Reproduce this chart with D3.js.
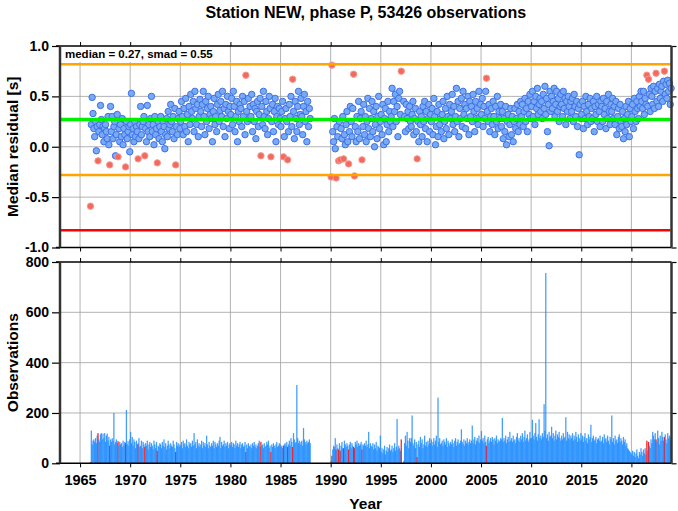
<!DOCTYPE html>
<html>
<head>
<meta charset="utf-8">
<script src="https://cdn.jsdelivr.net/npm/d3@7"></script>
<style>
  html, body { margin: 0; padding: 0; background: #fff; }
  svg { display: block; font-family: "Liberation Sans", Arial, Helvetica, sans-serif; }
</style>
</head>
<body>
<svg id="chart" width="678" height="511"></svg>
<script>
// ---------------- DATA ----------------
const title = "Station NEW, phase P, 53426 observations";
const statsLabel = "median = 0.27, smad = 0.55";
const medianValue = 0.27;
const smadValue = 0.55;
const firstYear = 1966;
const yearTicks = [1965, 1970, 1975, 1980, 1985, 1990, 1995, 2000, 2005, 2010, 2015, 2020];
const residualTicks = [-1.0, -0.5, 0.0, 0.5, 1.0];
const countTicks = [0, 200, 400, 600, 800];

// monthly median residual [s], one row per year (Jan..Dec), null = no data
const residual = [
  [-0.59,0.22,0.49,0.33,0.18,0.10,0.25,-0.04,0.20,-0.14,0.15,0.22], // 1966
  [0.41,0.27,0.12,0.20,0.05,0.18,0.22,0.15,0.08,0.30,0.02,-0.18],   // 1967
  [0.40,0.15,0.30,0.08,0.20,0.25,-0.09,0.12,0.32,-0.10,0.18,0.05],  // 1968
  [0.22,0.10,0.28,0.02,0.18,0.12,-0.20,0.25,0.08,0.15,0.20,-0.05],  // 1969
  [0.22,0.53,0.12,0.18,0.05,0.25,0.10,0.20,0.15,-0.12,0.08,0.22],   // 1970
  [0.40,0.12,0.20,0.25,0.30,-0.09,0.18,0.05,0.41,0.15,0.22,0.10],   // 1971
  [0.28,0.50,0.15,0.22,0.02,0.30,0.12,0.18,-0.16,0.25,0.08,0.20],   // 1972
  [0.30,0.15,0.05,0.25,0.20,-0.02,0.12,0.28,0.10,0.35,0.18,0.22],   // 1973
  [0.42,0.25,0.15,0.30,0.08,0.38,-0.18,0.20,0.12,0.28,0.35,0.18],   // 1974
  [0.25,0.45,0.30,0.12,0.38,0.20,0.48,0.15,0.32,0.05,0.40,0.22],    // 1975
  [0.52,0.35,0.28,0.45,0.15,0.55,0.38,0.22,0.42,0.10,0.30,0.47],    // 1976
  [0.35,0.20,0.42,0.55,0.30,0.12,0.45,0.25,0.38,0.50,0.18,0.32],    // 1977
  [0.40,0.28,0.05,0.35,0.48,0.22,0.30,0.15,0.42,0.52,0.25,0.36],    // 1978
  [0.45,0.30,0.55,0.20,0.38,0.10,0.42,0.28,0.50,0.35,0.18,0.40],    // 1979
  [0.32,0.48,0.22,0.55,0.40,0.15,0.30,0.45,0.05,0.35,0.25,0.42],    // 1980
  [0.38,0.20,0.50,0.30,0.45,0.12,0.71,0.35,0.25,0.48,0.28,0.40],    // 1981
  [0.30,0.52,0.15,0.42,0.25,0.38,0.08,0.35,0.45,0.20,0.32,0.48],    // 1982
  [-0.09,0.40,0.22,0.55,0.30,0.18,0.45,0.35,0.12,0.28,0.50,0.38],   // 1983
  [-0.10,0.25,0.42,0.15,0.35,0.48,0.05,0.30,0.40,0.22,0.38,0.28],   // 1984
  [0.20,0.35,0.45,-0.10,0.10,0.28,0.38,0.25,-0.13,0.15,0.42,0.30],  // 1985
  [0.50,0.20,0.67,0.35,0.08,0.45,0.28,0.15,0.40,0.55,0.22,0.32],    // 1986
  [0.48,0.30,0.12,0.40,0.52,0.25,0.35,0.05,0.45,0.20,0.38,0.28],    // 1987
  [null,null,null,null,null,null,null,null,null,null,null,null],    // 1988
  [null,null,null,null,null,null,null,null,null,null,null,null],    // 1989
  [-0.30,0.81,0.15,0.05,0.28,-0.02,-0.31,0.20,0.10,-0.14,0.25,-0.13], // 1990
  [0.18,0.08,0.30,-0.12,0.12,0.02,0.22,0.35,0.05,-0.17,0.15,0.40],  // 1991
  [0.25,0.10,0.38,0.72,-0.29,0.20,0.05,0.30,0.15,0.45,0.08,0.28],   // 1992
  [0.35,-0.13,0.20,0.42,0.12,0.30,0.05,0.25,0.48,0.18,0.38,0.10],   // 1993
  [0.28,0.45,0.15,0.35,0.00,0.22,0.40,0.08,0.30,0.50,0.18,0.25],    // 1994
  [0.32,0.12,0.42,0.02,0.28,0.38,0.05,0.22,0.45,0.15,0.35,0.25],    // 1995
  [0.30,0.58,0.20,0.45,0.35,0.52,0.25,0.40,0.10,0.48,0.55,0.32],    // 1996
  [0.75,null,null,0.45,0.30,0.15,0.42,0.28,0.35,0.18,0.40,0.25],    // 1997
  [0.20,0.32,0.45,0.12,0.28,0.38,0.15,-0.12,0.25,0.05,0.35,0.22],   // 1998
  [0.30,0.10,0.40,0.25,0.45,0.18,0.35,0.05,0.28,0.42,0.15,0.32],    // 1999
  [0.25,0.38,0.12,0.48,0.30,0.02,0.20,0.35,0.10,0.42,0.22,0.28],    // 2000
  [0.15,0.32,0.45,0.08,0.25,0.38,0.18,0.50,0.30,0.12,0.42,0.28],    // 2001
  [0.35,0.52,0.22,0.40,0.15,0.30,0.58,0.25,0.45,0.10,0.38,0.28],    // 2002
  [0.48,0.20,0.55,0.32,0.42,0.18,0.38,0.28,0.50,0.12,0.45,0.30],    // 2003
  [0.40,0.25,0.52,0.35,0.15,0.45,0.28,0.38,0.22,0.55,0.30,0.42],    // 2004
  [0.32,0.48,0.20,0.40,0.28,0.55,0.68,0.35,0.25,0.42,0.15,0.30],    // 2005
  [0.38,0.22,0.45,0.30,0.12,0.40,0.25,0.50,0.18,0.35,0.28,0.42],    // 2006
  [0.20,0.35,0.08,0.28,0.15,0.40,0.02,0.25,0.32,0.10,0.22,0.38],    // 2007
  [0.12,0.30,0.05,0.25,0.38,0.18,0.28,0.42,0.15,0.35,0.22,0.45],    // 2008
  [0.30,0.42,0.20,0.35,0.48,0.25,0.38,0.15,0.45,0.32,0.52,0.28],    // 2009
  [0.40,0.55,0.30,0.45,0.22,0.50,0.38,0.58,0.32,0.42,0.48,0.35],    // 2010
  [0.45,0.28,0.52,0.38,0.60,0.32,0.48,0.15,0.42,0.01,0.55,0.35],    // 2011
  [0.50,0.38,0.45,0.58,0.30,0.42,0.55,0.35,0.48,0.25,0.40,0.52],    // 2012
  [0.42,0.30,0.55,0.38,0.48,0.22,0.45,0.35,0.50,0.40,0.28,0.45],    // 2013
  [0.35,0.48,0.25,0.52,0.40,0.30,0.45,0.20,0.38,-0.08,0.42,0.28],   // 2014
  [0.32,0.45,0.18,0.40,0.28,0.50,0.35,0.22,0.42,0.30,0.48,0.25],    // 2015
  [0.38,0.28,0.45,0.15,0.40,0.32,0.50,0.25,0.42,0.35,0.20,0.45],    // 2016
  [0.40,0.25,0.48,0.32,0.38,0.18,0.45,0.28,0.52,0.35,0.22,0.42],    // 2017
  [0.35,0.48,0.28,0.40,0.22,0.45,0.12,0.30,0.38,0.18,0.42,0.25],    // 2018
  [0.20,0.35,0.08,0.28,0.15,0.40,0.22,0.32,0.45,0.10,0.38,0.25],    // 2019
  [0.30,0.42,0.18,0.48,0.35,0.25,0.45,0.38,0.28,0.50,0.40,0.55],    // 2020
  [0.45,0.38,0.55,0.32,0.48,0.42,0.71,0.40,0.67,0.52,0.35,0.58],    // 2021
  [0.50,0.42,0.60,0.38,0.55,0.73,0.45,0.58,0.40,0.62,0.48,0.55],    // 2022
  [0.60,0.45,0.65,0.75,0.52,0.62,0.48,0.66,0.55,0.63,0.42,0.58]     // 2023
];

// monthly number of observations, one row per year (Jan..Dec)
const counts = [
  [5,130,75,90,95,85,100,80,110,120,95,85],        // 1966
  [115,120,95,118,100,120,85,110,118,90,105,70],   // 1967
  [95,85,100,90,200,75,85,95,80,88,70,85],         // 1968
  [75,80,65,90,70,85,80,212,75,88,70,95],          // 1969
  [125,80,105,70,95,85,60,90,75,78,100,65],        // 1970
  [70,90,60,85,75,65,80,70,90,55,75,85],           // 1971
  [65,80,70,55,90,75,60,85,50,70,65,80],           // 1972
  [75,60,85,70,95,65,80,55,70,90,75,60],           // 1973
  [80,70,65,90,75,60,45,85,70,80,65,75],           // 1974
  [70,85,60,90,75,80,65,95,70,60,85,75],           // 1975
  [80,65,90,70,120,75,85,60,95,70,80,65],          // 1976
  [75,90,60,85,70,80,65,110,75,60,85,70],          // 1977
  [65,80,70,90,60,85,75,65,80,70,90,105],          // 1978
  [60,85,70,75,90,65,80,70,85,60,75,80],           // 1979
  [70,85,65,80,75,60,90,70,80,65,75,85],           // 1980
  [60,75,80,65,70,85,45,75,60,80,70,65],           // 1981
  [75,60,80,70,85,65,75,60,70,80,90,65],           // 1982
  [85,70,75,60,80,65,70,85,75,90,60,70],           // 1983
  [45,75,65,80,70,60,75,85,65,70,80,75],           // 1984
  [65,70,60,70,75,80,70,85,65,75,90,70],           // 1985
  [100,85,65,120,95,80,85,311,100,80,90,75],       // 1986
  [85,90,70,140,95,85,75,90,80,85,95,80],          // 1987
  [0,0,0,0,0,0,0,0,0,0,0,0],                       // 1988
  [0,0,0,0,0,0,0,0,0,0,0,0],                       // 1989
  [8,30,55,70,65,100,55,75,60,55,80,50],           // 1990
  [70,85,60,60,90,75,65,80,70,55,75,85],           // 1991
  [60,80,70,65,60,85,75,90,65,80,70,75],           // 1992
  [85,55,75,70,80,70,90,65,75,125,60,80],          // 1993
  [70,65,80,55,75,60,85,50,70,65,60,110],          // 1994
  [45,60,40,55,70,35,50,65,45,60,75,50],           // 1995
  [55,70,45,60,80,50,65,176,55,70,60,50],          // 1996
  [95,0,0,10,80,110,70,125,90,60,100,85],          // 1997
  [100,190,80,70,95,60,85,25,75,90,65,105],        // 1998
  [80,95,60,75,110,70,85,65,90,75,100,80],         // 1999
  [95,70,85,100,75,90,110,65,261,85,100,75],       // 2000
  [80,90,70,95,85,75,100,65,90,80,70,85],          // 2001
  [75,95,80,65,90,100,70,85,95,75,80,90],          // 2002
  [135,85,75,95,70,90,80,100,75,85,95,80],         // 2003
  [90,150,80,95,105,75,90,100,85,110,80,95],       // 2004
  [128,90,100,80,110,85,70,95,105,80,90,100],      // 2005
  [85,105,95,75,100,90,110,80,95,85,90,100],       // 2006
  [95,180,85,100,90,110,80,95,105,85,125,90],      // 2007
  [100,85,110,90,95,80,105,120,90,100,85,110],     // 2008
  [95,120,85,105,130,90,100,115,85,95,125,100],    // 2009
  [100,173,110,95,120,160,105,90,115,175,100,110], // 2010
  [95,120,105,235,130,756,100,115,90,125,105,110], // 2011
  [145,100,120,90,110,130,95,115,105,125,100,90],  // 2012
  [110,95,120,100,105,183,90,125,100,115,95,110],  // 2013
  [100,120,90,110,95,125,105,85,115,100,90,120],   // 2014
  [95,110,85,105,120,90,100,80,115,95,105,153],    // 2015
  [85,100,110,90,95,105,80,95,100,90,110,85],      // 2016
  [90,105,80,115,95,100,85,110,90,75,105,95],      // 2017
  [190,85,100,75,110,90,95,80,105,115,85,100],     // 2018
  [90,75,105,85,95,70,80,60,55,50,45,40],          // 2019
  [35,50,30,45,25,40,55,30,20,45,35,60],           // 2020
  [45,30,55,40,60,35,90,50,85,70,60,95],           // 2021
  [80,125,110,95,120,95,85,130,100,75,110,90],     // 2022
  [125,105,90,105,115,95,80,120,100,110,90,105]    // 2023
];

// months flagged (drawn in red)
const flagged = [
  "1966-01","1966-10","1967-12","1968-10","1969-07","1970-10","1971-06","1972-09","1974-07",
  "1981-07","1983-01","1984-01","1985-04","1985-09","1986-03",
  "1990-01","1990-02","1990-07","1990-10","1990-12","1991-04","1991-10","1992-04","1992-05","1993-02",
  "1997-01","1998-08","2005-07","2021-07","2021-09","2022-06","2023-04"
];

// ---------------- BUILD RECORDS ----------------
const flagSet = new Set(flagged);
const months = [];
residual.forEach((row, yi) => {
  row.forEach((v, m) => {
    const yr = firstYear + yi;
    const key = yr + "-" + String(m + 1).padStart(2, "0");
    months.push({ t: yr + (m + 0.5) / 12, res: v, n: counts[yi][m], flag: flagSet.has(key) });
  });
});

// ---------------- LAYOUT ----------------
const svg = d3.select("#chart");
const L = 60, R = 671.5;
const top1 = 46, bot1 = 247.5, top2 = 262, bot2 = 463.3;
const x = d3.scaleLinear().domain([1963, 2024]).range([L, R]);
const yRes = d3.scaleLinear().domain([-1, 1]).range([bot1, top1]);
const yCnt = d3.scaleLinear().domain([0, 800]).range([bot2, top2]);
const font = "bold";

// title
svg.append("text").attr("x", (L + R) / 2).attr("y", 18).attr("text-anchor", "middle")
  .attr("font-size", 16).attr("font-weight", font).text(title);

function gridAndFrame(y, yt, top, bot) {
  const g = svg.append("g");
  g.selectAll("line.vg").data(yearTicks).join("line")
    .attr("x1", d => x(d)).attr("x2", d => x(d)).attr("y1", top).attr("y2", bot)
    .attr("stroke", "#a0a0a0").attr("stroke-width", 0.8);
  g.selectAll("line.hg").data(yt.slice(1, -1)).join("line")
    .attr("x1", L).attr("x2", R).attr("y1", d => y(d)).attr("y2", d => y(d))
    .attr("stroke", "#a0a0a0").attr("stroke-width", 0.8);
  return g;
}

function axes(y, yt, top, bot, fmt, withXLabels) {
  const left = svg.append("g").attr("transform", `translate(${L},0)`)
    .call(d3.axisLeft(y).tickValues(yt).tickFormat(fmt).tickSize(8).tickPadding(3));
  left.select(".domain").remove();
  left.selectAll("line").attr("stroke", "#000").attr("stroke-width", 1.2);
  left.selectAll("text").attr("font-size", 14).attr("font-weight", font).attr("fill", "#000")
    .attr("font-family", "Liberation Sans, Arial, sans-serif");

  const right = svg.append("g").attr("transform", `translate(${R},0)`)
    .call(d3.axisRight(y).tickValues(yt).tickFormat("").tickSize(5));
  right.select(".domain").remove();
  right.selectAll("line").attr("stroke", "#000").attr("stroke-width", 1.2);

  const tp = svg.append("g").attr("transform", `translate(0,${top})`)
    .call(d3.axisTop(x).tickValues(yearTicks).tickFormat("").tickSize(4));
  tp.select(".domain").remove();
  tp.selectAll("line").attr("stroke", "#000");

  const bt = svg.append("g").attr("transform", `translate(0,${bot})`)
    .call(d3.axisBottom(x).tickValues(yearTicks).tickFormat(withXLabels ? d3.format("d") : "")
      .tickSize(4).tickPadding(7));
  bt.select(".domain").remove();
  bt.selectAll("line").attr("stroke", "#000");
  bt.selectAll("text").attr("font-size", 14.5).attr("font-weight", font).attr("fill", "#000")
    .attr("font-family", "Liberation Sans, Arial, sans-serif");

  // frame
  svg.append("line").attr("x1", L - 4).attr("x2", R).attr("y1", top).attr("y2", top)
    .attr("stroke", "#000").attr("stroke-width", 1.5);
  svg.append("line").attr("x1", L - 4).attr("x2", R).attr("y1", bot).attr("y2", bot)
    .attr("stroke", "#000").attr("stroke-width", 1.5);
  svg.append("line").attr("x1", L).attr("x2", L).attr("y1", top).attr("y2", bot)
    .attr("stroke", "#333").attr("stroke-width", 2.5);
  svg.append("line").attr("x1", R).attr("x2", R).attr("y1", top).attr("y2", bot)
    .attr("stroke", "#333").attr("stroke-width", 2.5);
}

// ---------- top panel ----------
gridAndFrame(yRes, residualTicks, top1, bot1);

// points
const pts = months.filter(d => d.res !== null);
svg.append("g").selectAll("circle").data(pts.filter(d => !d.flag)).join("circle")
  .attr("cx", d => x(d.t)).attr("cy", d => yRes(d.res)).attr("r", 3.2)
  .attr("fill", "#76aaf4").attr("stroke", "#3f6fe6").attr("stroke-width", 1);
svg.append("g").selectAll("circle").data(pts.filter(d => d.flag)).join("circle")
  .attr("cx", d => x(d.t)).attr("cy", d => yRes(d.res)).attr("r", 3.2)
  .attr("fill", "#f26a5e").attr("stroke", "#f59a90").attr("stroke-width", 1);

// reference lines (drawn over the points)
const refLines = [
  { v: medianValue + smadValue, c: "#ffa500", w: 2.5 },
  { v: medianValue - smadValue, c: "#ffa500", w: 2.5 },
  { v: medianValue - 2 * smadValue, c: "#ff0000", w: 2.5 },
  { v: medianValue, c: "#00ee00", w: 3.5 }
];
svg.append("g").selectAll("line").data(refLines).join("line")
  .attr("x1", L + 1).attr("x2", R - 1).attr("y1", d => yRes(d.v)).attr("y2", d => yRes(d.v))
  .attr("stroke", d => d.c).attr("stroke-width", d => d.w);

// stats label box
svg.append("rect").attr("x", L + 1).attr("y", top1 + 1).attr("width", 160).attr("height", 15).attr("fill", "#fff");
svg.append("text").attr("x", L + 5).attr("y", top1 + 12).attr("font-size", 11.5).attr("font-weight", font)
  .text(statsLabel);

axes(yRes, residualTicks, top1, bot1, d => d.toFixed(1), false);

// ---------- bottom panel ----------
gridAndFrame(yCnt, countTicks, top2, bot2);
const bw = (x(1) - x(0)) / 12;
svg.append("g").selectAll("rect").data(months.filter(d => d.n > 0)).join("rect")
  .attr("x", d => x(d.t) - bw * 0.75).attr("width", bw * 1.5)
  .attr("y", d => yCnt(d.n)).attr("height", d => yCnt(0) - yCnt(d.n))
  .attr("fill", d => d.flag ? "#ff1a1a" : "#1e8cff")
  .attr("fill-opacity", d => d.flag ? 1 : 0.85);

axes(yCnt, countTicks, top2, bot2, d => String(d), true);

// axis titles
svg.append("text").attr("transform", `translate(18,${(top1 + bot1) / 2}) rotate(-90)`)
  .attr("text-anchor", "middle").attr("font-size", 15.5).attr("font-weight", font).text("Median residual [s]");
svg.append("text").attr("transform", `translate(18,${(top2 + bot2) / 2}) rotate(-90)`)
  .attr("text-anchor", "middle").attr("font-size", 15.5).attr("font-weight", font).text("Observations");
svg.append("text").attr("x", (L + R) / 2).attr("y", 509).attr("text-anchor", "middle")
  .attr("font-size", 15.5).attr("font-weight", font).text("Year");
</script>
</body>
</html>
